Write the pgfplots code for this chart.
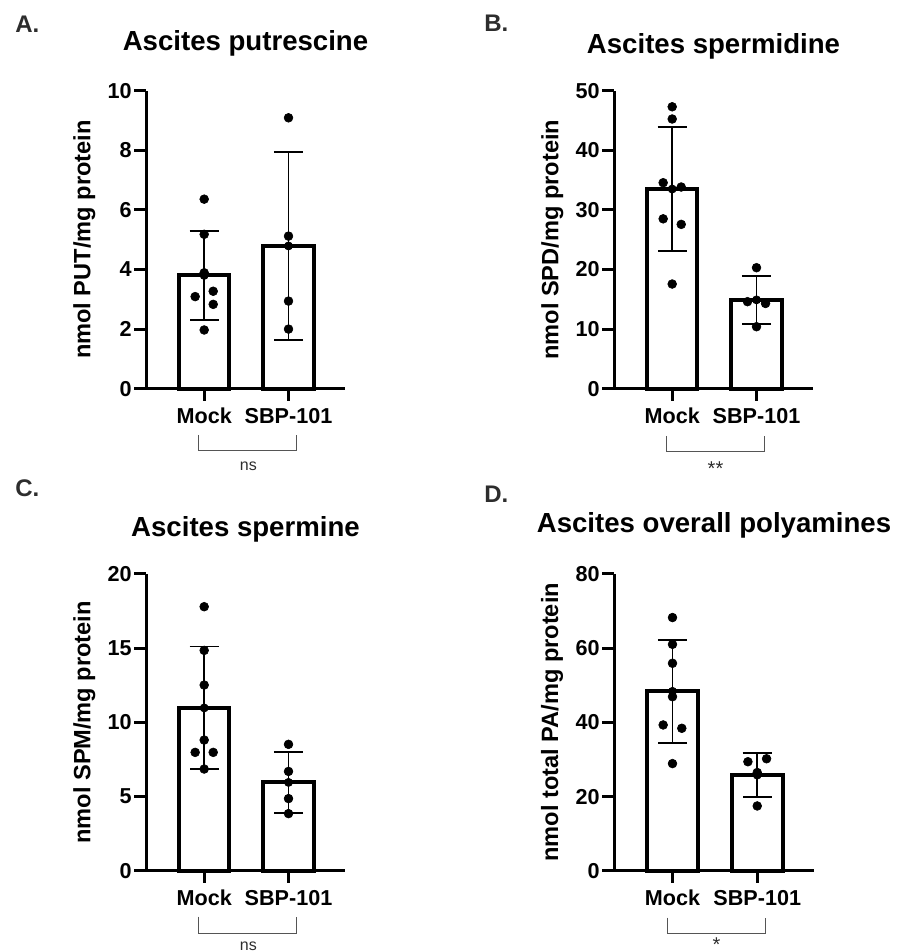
\documentclass[border=0pt]{standalone}
\usepackage{fontspec}
\setmainfont{Liberation Sans}
\usepackage{pgfplots}
\pgfplotsset{compat=1.18}
\definecolor{brk}{RGB}{85,85,85}
\definecolor{lbl}{RGB}{45,45,45}
\pgfplotsset{
  panel/.style={
    scale only axis, width=99.5pt, height=149pt,
    xmin=0.31, xmax=2.67, ymin=0,
    axis x line*=bottom, axis y line*=left,
    axis line style={line width=1.5pt, -},
    tick align=outside, tick style={line width=1.5pt, black},
    major tick length=6pt,
    xtick={1,2}, xticklabels={Mock,SBP-101},
    tick label style={font=\bfseries\fontsize{10.8}{12}\selectfont},
    xticklabel style={text height=7.8pt},
    yticklabel style={inner sep=1pt},
    /pgf/number format/assume math mode=true,
    every axis y label/.style={at={(axis description cs:-0.31,0.5)}, rotate=90, anchor=center, font=\bfseries\fontsize{11.8}{13}\selectfont},
    every axis title/.style={at={(axis description cs:0.5,1)}, anchor=base, font=\bfseries\fontsize{13.8}{15}\selectfont},
    clip=false,
  },
  barstyle/.style={ybar, bar width=0.6, fill=white, draw=black, line width=2pt},
  errstyle/.style={only marks, mark=none, forget plot, error bars/.cd, y dir=both, y explicit, error mark=|, error bar style={draw=black, line width=0.8pt}, error mark options={draw=black, line width=0.8pt, mark size=7.3pt}},
  dotstyle/.style={only marks, mark=*, mark size=2.2pt, mark options={fill=black, draw=black, line width=0.3pt}},
}
\begin{document}
\begin{tikzpicture}
\useasboundingbox (0,0) rectangle (449.5pt,475.5pt);
% Panel A
\begin{axis}[panel, at={(73pt,281.15pt)}, anchor=south west,
  ymax=10, ytick={0,2,4,6,8,10},
  ylabel={nmol PUT/mg protein}, title={Ascites putrescine},
  title style={yshift=20pt}]
\addplot[barstyle] coordinates {(1,3.80) (2,4.79)};
\addplot[errstyle] coordinates {(1,3.80) +- (0,1.50) (2,4.79) +- (0,3.16)};
\addplot[dotstyle] coordinates {(1,6.36) (1,5.18) (1,3.89) (0.893,3.09) (1.107,3.27) (1.107,2.83) (1,1.97)
  (2,9.09) (2,5.12) (2,2.94) (2,2.00)};
\end{axis}
% Panel B
\begin{axis}[panel, at={(307pt,281.15pt)}, anchor=south west,
  ymax=50, ytick={0,10,20,30,40,50},
  ylabel={nmol SPD/mg protein}, title={Ascites spermidine},
  title style={yshift=18.7pt}]
\addplot[barstyle] coordinates {(1,33.5) (2,14.9)};
\addplot[errstyle] coordinates {(1,33.5) +- (0,10.4) (2,14.9) +- (0,4.0)};
\addplot[dotstyle] coordinates {(1,47.3) (1,45.25) (0.893,34.56) (1.107,33.84) (0.893,28.5) (1.107,27.57) (1,17.56)
  (2,20.3) (1.893,14.6) (2.107,14.3) (2,10.4)};
\end{axis}
% Panel C
\begin{axis}[panel, at={(73pt,40pt)}, anchor=south west, height=148.65pt,
  ymax=20, ytick={0,5,10,15,20},
  ylabel={nmol SPM/mg protein}, title={Ascites spermine},
  title style={yshift=18.8pt}]
\addplot[barstyle] coordinates {(1,10.97) (2,5.96)};
\addplot[errstyle] coordinates {(1,10.97) +- (0,4.12) (2,5.96) +- (0,2.04)};
\addplot[dotstyle] coordinates {(1,17.78) (1,14.84) (1,12.51) (1,8.81) (0.893,7.98) (1.107,7.98) (1,6.86)
  (2,8.52) (2,6.70) (2,4.87) (2,3.86)};
\end{axis}
% Panel D
\begin{axis}[panel, at={(307pt,40pt)}, anchor=south west, height=148.65pt, width=100pt,
  ymax=80, ytick={0,20,40,60,80},
  ylabel={nmol total PA/mg protein}, title={Ascites overall polyamines},
  title style={yshift=20.7pt}]
\addplot[barstyle] coordinates {(1,48.35) (2,25.8)};
\addplot[errstyle] coordinates {(1,48.35) +- (0,13.85) (2,25.8) +- (0,5.9)};
\addplot[dotstyle] coordinates {(1,68.2) (1,61.0) (1,55.9) (1,46.9) (0.89,39.3) (1.11,38.4) (1,28.9)
  (1.89,29.4) (2.11,30.2) (2,26.5) (2,17.5)};
\end{axis}
\begin{scope}[yshift=475.5pt, x=0.5pt, y=-0.5pt]
\draw[brk, line width=0.75pt] (198.3,435) -- (198.3,450.7) -- (296.7,450.7) -- (296.7,435);
\node[anchor=north, inner sep=0pt, text=lbl, font=\fontsize{8}{9}\selectfont] at (248.3,461.7) {ns};
\draw[brk, line width=0.75pt] (666.7,436) -- (666.7,451.7) -- (764.3,451.7) -- (764.3,436);
\node[anchor=north, inner sep=0pt, text=lbl, font=\fontsize{10}{11}\selectfont] at (715.5,461.7) {**};
\draw[brk, line width=0.75pt] (198.3,916.7) -- (198.3,933.3) -- (296.7,933.3) -- (296.7,916.7);
\node[anchor=north, inner sep=0pt, text=lbl, font=\fontsize{8}{9}\selectfont] at (248.3,941) {ns};
\draw[brk, line width=0.75pt] (667.3,917.7) -- (667.3,933.3) -- (765.7,933.3) -- (765.7,917.7);
\node[anchor=north, inner sep=0pt, text=lbl, font=\fontsize{10}{11}\selectfont] at (716.5,937) {*};
\node[anchor=base west, inner sep=0pt, text=lbl, font=\bfseries\fontsize{12}{13}\selectfont] at (15,33) {A.};
\node[anchor=base west, inner sep=0pt, text=lbl, font=\bfseries\fontsize{12}{13}\selectfont] at (484,32) {B.};
\node[anchor=base west, inner sep=0pt, text=lbl, font=\bfseries\fontsize{12}{13}\selectfont] at (15,497) {C.};
\node[anchor=base west, inner sep=0pt, text=lbl, font=\bfseries\fontsize{12}{13}\selectfont] at (484,503) {D.};
\end{scope}
\end{tikzpicture}
\end{document}
